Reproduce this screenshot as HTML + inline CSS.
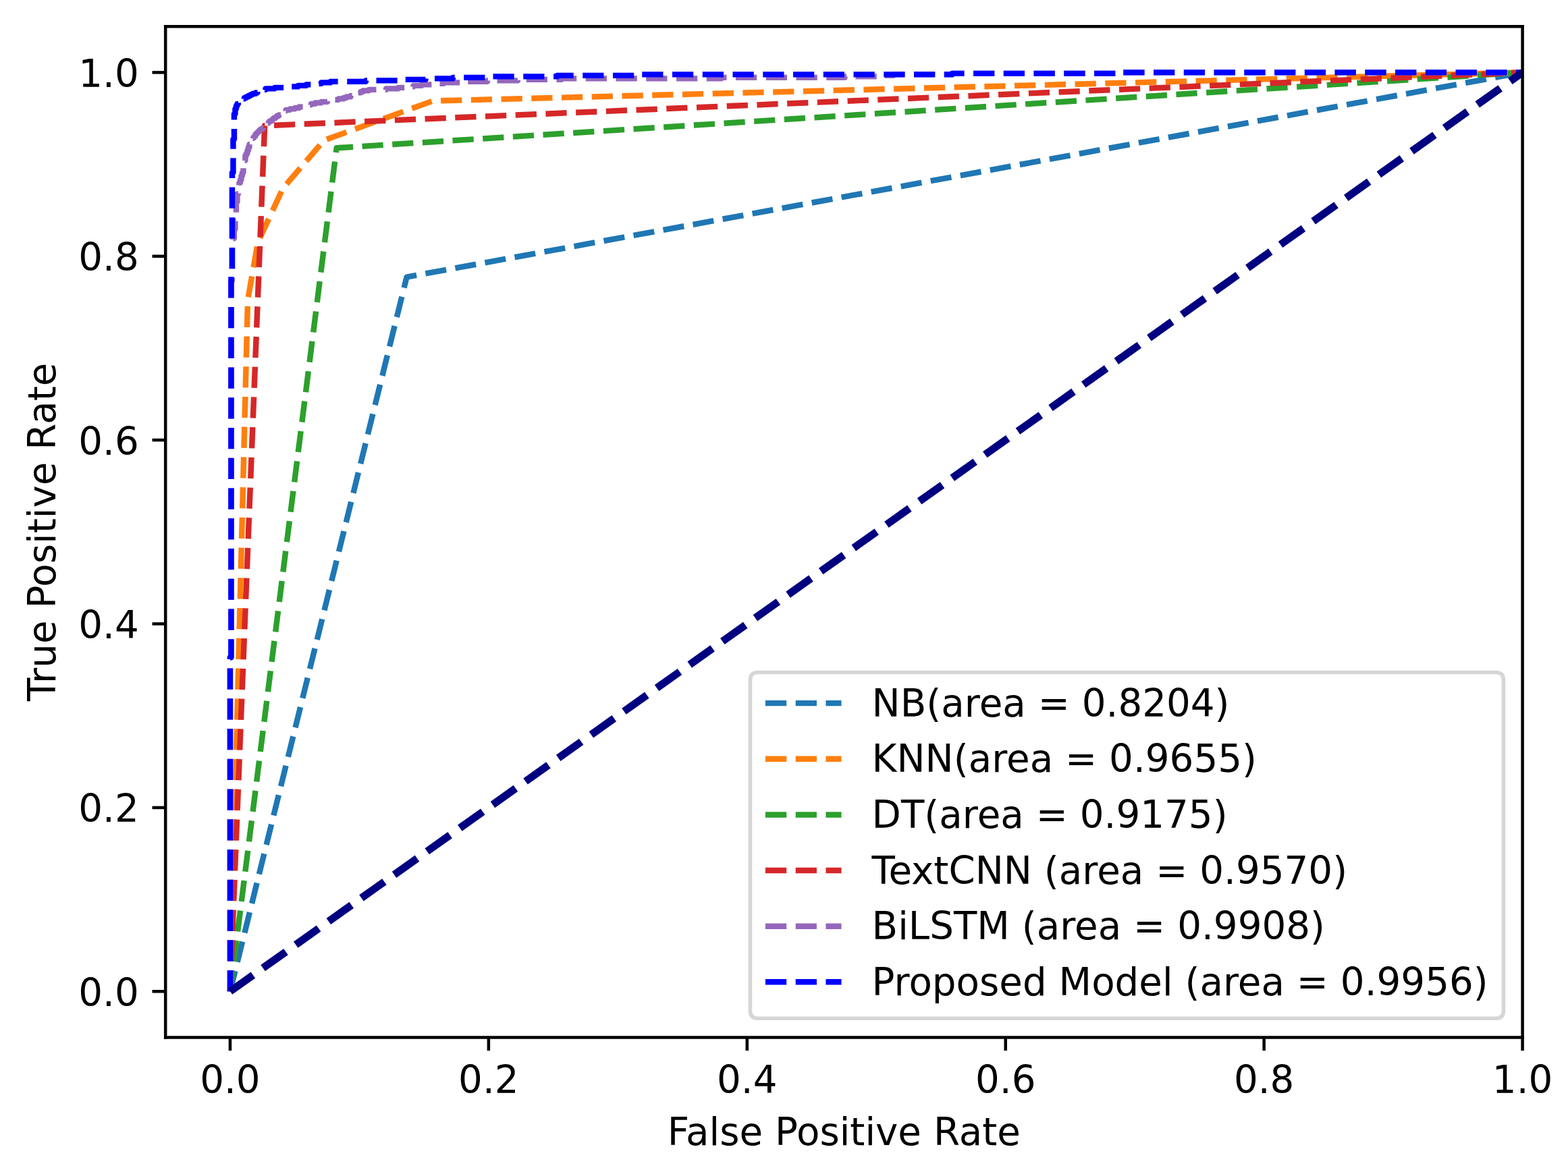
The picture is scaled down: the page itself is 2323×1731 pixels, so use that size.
<!DOCTYPE html>
<html><head><meta charset="utf-8"><title>ROC</title>
<style>html,body{margin:0;padding:0;background:#fff;overflow:hidden;}svg{display:block;}
text{font-family:"DejaVu Sans","Liberation Sans",sans-serif;}</style></head>
<body>
<svg width="2323" height="1731" viewBox="14.0437 34.4909 412.6477 307.4873">
 <defs>
  <style type="text/css">*{stroke-linejoin: round; stroke-linecap: butt}</style>
 </defs>
 <g id="figure_1">
  <g id="patch_1">
   <path d="M 0 345.6 L 460.8 345.6 L 460.8 0 L 0 0 z
" style="fill: #ffffff"/>
  </g>
  <g id="axes_1">
   <g id="patch_2">
    <path d="M 57.6 307.584 L 414.72 307.584 L 414.72 41.472 L 57.6 41.472 z
" style="fill: #ffffff"/>
   </g>
   <g id="matplotlib.axis_1">
    <g id="xtick_1">
     <g id="line2d_1">
            <g>
       <path d="M 0 0 L 0 3.5 " transform="translate(74.605714 307.584)" style="stroke: #000000; stroke-width: 0.8"/>
      </g>
     </g>
     <g id="text_1">
      <text style="font-size: 10px; font-family: 'DejaVu Sans', 'Liberation Sans', sans-serif; text-anchor: middle" x="74.605714" y="322.182437" transform="rotate(-0 74.605714 322.182437)">0.0</text>
     </g>
    </g>
    <g id="xtick_2">
     <g id="line2d_2">
      <g>
       <path d="M 0 0 L 0 3.5 " transform="translate(142.628571 307.584)" style="stroke: #000000; stroke-width: 0.8"/>
      </g>
     </g>
     <g id="text_2">
      <text style="font-size: 10px; font-family: 'DejaVu Sans', 'Liberation Sans', sans-serif; text-anchor: middle" x="142.628571" y="322.182437" transform="rotate(-0 142.628571 322.182437)">0.2</text>
     </g>
    </g>
    <g id="xtick_3">
     <g id="line2d_3">
      <g>
       <path d="M 0 0 L 0 3.5 " transform="translate(210.651429 307.584)" style="stroke: #000000; stroke-width: 0.8"/>
      </g>
     </g>
     <g id="text_3">
      <text style="font-size: 10px; font-family: 'DejaVu Sans', 'Liberation Sans', sans-serif; text-anchor: middle" x="210.651429" y="322.182437" transform="rotate(-0 210.651429 322.182437)">0.4</text>
     </g>
    </g>
    <g id="xtick_4">
     <g id="line2d_4">
      <g>
       <path d="M 0 0 L 0 3.5 " transform="translate(278.674286 307.584)" style="stroke: #000000; stroke-width: 0.8"/>
      </g>
     </g>
     <g id="text_4">
      <text style="font-size: 10px; font-family: 'DejaVu Sans', 'Liberation Sans', sans-serif; text-anchor: middle" x="278.674286" y="322.182437" transform="rotate(-0 278.674286 322.182437)">0.6</text>
     </g>
    </g>
    <g id="xtick_5">
     <g id="line2d_5">
      <g>
       <path d="M 0 0 L 0 3.5 " transform="translate(346.697143 307.584)" style="stroke: #000000; stroke-width: 0.8"/>
      </g>
     </g>
     <g id="text_5">
      <text style="font-size: 10px; font-family: 'DejaVu Sans', 'Liberation Sans', sans-serif; text-anchor: middle" x="346.697143" y="322.182437" transform="rotate(-0 346.697143 322.182437)">0.8</text>
     </g>
    </g>
    <g id="xtick_6">
     <g id="line2d_6">
      <g>
       <path d="M 0 0 L 0 3.5 " transform="translate(414.72 307.584)" style="stroke: #000000; stroke-width: 0.8"/>
      </g>
     </g>
     <g id="text_6">
      <text style="font-size: 10px; font-family: 'DejaVu Sans', 'Liberation Sans', sans-serif; text-anchor: middle" x="414.72" y="322.182437" transform="rotate(-0 414.72 322.182437)">1.0</text>
     </g>
    </g>
    <g id="text_7">
     <text style="font-size: 10px; font-family: 'DejaVu Sans', 'Liberation Sans', sans-serif; text-anchor: middle" x="236.16" y="335.860562" transform="rotate(-0 236.16 335.860562)">False Positive Rate</text>
    </g>
   </g>
   <g id="matplotlib.axis_2">
    <g id="ytick_1">
     <g id="line2d_7">
            <g>
       <path d="M 0 0 L -3.5 0 " transform="translate(57.6 295.488)" style="stroke: #000000; stroke-width: 0.8"/>
      </g>
     </g>
     <g id="text_8">
      <text style="font-size: 10px; font-family: 'DejaVu Sans', 'Liberation Sans', sans-serif; text-anchor: end" x="50.6" y="299.287219" transform="rotate(-0 50.6 299.287219)">0.0</text>
     </g>
    </g>
    <g id="ytick_2">
     <g id="line2d_8">
      <g>
       <path d="M 0 0 L -3.5 0 " transform="translate(57.6 247.104)" style="stroke: #000000; stroke-width: 0.8"/>
      </g>
     </g>
     <g id="text_9">
      <text style="font-size: 10px; font-family: 'DejaVu Sans', 'Liberation Sans', sans-serif; text-anchor: end" x="50.6" y="250.903219" transform="rotate(-0 50.6 250.903219)">0.2</text>
     </g>
    </g>
    <g id="ytick_3">
     <g id="line2d_9">
      <g>
       <path d="M 0 0 L -3.5 0 " transform="translate(57.6 198.72)" style="stroke: #000000; stroke-width: 0.8"/>
      </g>
     </g>
     <g id="text_10">
      <text style="font-size: 10px; font-family: 'DejaVu Sans', 'Liberation Sans', sans-serif; text-anchor: end" x="50.6" y="202.519219" transform="rotate(-0 50.6 202.519219)">0.4</text>
     </g>
    </g>
    <g id="ytick_4">
     <g id="line2d_10">
      <g>
       <path d="M 0 0 L -3.5 0 " transform="translate(57.6 150.336)" style="stroke: #000000; stroke-width: 0.8"/>
      </g>
     </g>
     <g id="text_11">
      <text style="font-size: 10px; font-family: 'DejaVu Sans', 'Liberation Sans', sans-serif; text-anchor: end" x="50.6" y="154.135219" transform="rotate(-0 50.6 154.135219)">0.6</text>
     </g>
    </g>
    <g id="ytick_5">
     <g id="line2d_11">
      <g>
       <path d="M 0 0 L -3.5 0 " transform="translate(57.6 101.952)" style="stroke: #000000; stroke-width: 0.8"/>
      </g>
     </g>
     <g id="text_12">
      <text style="font-size: 10px; font-family: 'DejaVu Sans', 'Liberation Sans', sans-serif; text-anchor: end" x="50.6" y="105.751219" transform="rotate(-0 50.6 105.751219)">0.8</text>
     </g>
    </g>
    <g id="ytick_6">
     <g id="line2d_12">
      <g>
       <path d="M 0 0 L -3.5 0 " transform="translate(57.6 53.568)" style="stroke: #000000; stroke-width: 0.8"/>
      </g>
     </g>
     <g id="text_13">
      <text style="font-size: 10px; font-family: 'DejaVu Sans', 'Liberation Sans', sans-serif; text-anchor: end" x="50.6" y="57.367219" transform="rotate(-0 50.6 57.367219)">1.0</text>
     </g>
    </g>
    <g id="text_14">
     <text style="font-size: 10px; font-family: 'DejaVu Sans', 'Liberation Sans', sans-serif; text-anchor: middle" x="28.617187" y="174.528" transform="rotate(-90 28.617187 174.528)">True Positive Rate</text>
    </g>
   </g>
   <g id="line2d_13">
    <path d="M 74.605 295.488 L 121.079 107.422 L 414.72 53.568 " clip-path="url(#p02d3b5d28d)" style="fill: none; stroke-dasharray: 5.55,2.4; stroke-dashoffset: 0; stroke: #1f77b4; stroke-width: 1.5"/>
   </g>
   <g id="line2d_14">
    <path d="M 74.605 295.488 L 79.242 113.532 L 81.907 98.257 L 88.515 84.047 L 99.317 71.436 L 127.919 61.063 L 414.72 53.568 " clip-path="url(#p02d3b5d28d)" style="fill: none; stroke-dasharray: 5.55,2.4; stroke-dashoffset: 0; stroke: #ff7f0e; stroke-width: 1.5"/>
   </g>
   <g id="line2d_15">
    <path d="M 74.605 295.488 L 102.621 73.443 L 414.72 53.568 " clip-path="url(#p02d3b5d28d)" style="fill: none; stroke-dasharray: 5.55,2.4; stroke-dashoffset: 0; stroke: #2ca02c; stroke-width: 1.5"/>
   </g>
   <g id="line2d_16">
    <path d="M 74.605 295.488 L 83.701 67.582 L 414.72 53.568 " clip-path="url(#p02d3b5d28d)" style="fill: none; stroke-dasharray: 5.55,2.4; stroke-dashoffset: 0; stroke: #d62728; stroke-width: 1.5"/>
   </g>
   <g id="line2d_17">
    <path d="M 74.605 295.488 L 74.605 207.565 L 74.872 207.565 L 74.872 108.452 L 75.138 108.452 L 75.138 99.660 L 75.405 99.660 L 75.405 97.262 L 75.671 97.262 L 75.671 94.864 L 75.938 94.864 L 75.938 92.733 L 76.204 92.733 L 76.204 87.671 L 76.471 87.671 L 76.471 85.539 L 76.737 85.539 L 76.737 83.674 L 77.004 83.674 L 77.004 82.609 L 77.270 82.609 L 77.270 81.809 L 77.536 81.809 L 77.536 80.744 L 77.803 80.744 L 77.803 79.944 L 78.069 79.944 L 78.069 78.612 L 78.336 78.612 L 78.336 76.747 L 78.602 76.747 L 78.602 75.415 L 78.869 75.415 L 78.869 74.882 L 79.135 74.882 L 79.135 74.083 L 79.402 74.083 L 79.402 73.283 L 79.668 73.283 L 79.668 72.484 L 79.935 72.484 L 79.935 71.951 L 80.201 71.951 L 80.201 71.418 L 80.468 71.418 L 80.468 70.886 L 80.734 70.886 L 80.734 70.619 L 81.001 70.619 L 81.001 70.353 L 81.267 70.353 L 81.267 69.820 L 81.534 69.820 L 81.534 69.553 L 81.800 69.553 L 81.800 69.287 L 82.067 69.287 L 82.067 69.021 L 82.333 69.021 L 82.333 68.754 L 82.600 68.754 L 82.600 68.488 L 83.132 68.488 L 83.132 68.221 L 83.399 68.221 L 83.399 67.955 L 83.665 67.955 L 83.665 67.688 L 83.932 67.688 L 83.932 67.422 L 84.198 67.422 L 84.198 67.156 L 84.465 67.156 L 84.465 66.889 L 84.731 66.889 L 84.731 66.623 L 84.998 66.623 L 84.998 66.356 L 85.531 66.356 L 85.531 66.090 L 85.797 66.090 L 85.797 65.823 L 86.064 65.823 L 86.064 65.557 L 86.597 65.557 L 86.597 65.290 L 86.863 65.290 L 86.863 65.024 L 87.396 65.024 L 87.396 64.758 L 87.929 64.758 L 87.929 64.491 L 88.196 64.491 L 88.196 64.225 L 88.729 64.225 L 88.729 63.958 L 88.995 63.958 L 88.995 63.692 L 89.261 63.692 L 89.261 63.425 L 90.327 63.425 L 90.327 63.159 L 91.660 63.159 L 91.660 62.893 L 92.726 62.893 L 92.726 62.626 L 93.792 62.626 L 93.792 62.360 L 94.858 62.360 L 94.858 62.093 L 95.923 62.093 L 95.923 61.827 L 96.989 61.827 L 96.989 61.560 L 98.588 61.560 L 98.588 61.294 L 100.187 61.294 L 100.187 61.028 L 101.519 61.028 L 101.519 60.761 L 103.118 60.761 L 103.118 60.495 L 104.451 60.495 L 104.451 60.228 L 105.250 60.228 L 105.250 59.962 L 106.316 59.962 L 106.316 59.695 L 106.849 59.695 L 106.849 59.429 L 107.648 59.429 L 107.648 59.163 L 108.181 59.163 L 108.181 58.896 L 108.981 58.896 L 108.981 58.630 L 109.514 58.630 L 109.514 58.363 L 111.113 58.363 L 111.113 58.097 L 115.643 58.097 L 115.643 57.830 L 118.841 57.830 L 118.841 57.564 L 120.972 57.564 L 120.972 57.298 L 122.838 57.298 L 122.838 57.031 L 124.969 57.031 L 124.969 56.765 L 127.901 56.765 L 127.901 56.498 L 130.832 56.498 L 130.832 56.232 L 135.362 56.232 L 135.362 55.965 L 142.291 55.965 L 142.291 55.699 L 150.285 55.699 L 150.285 55.433 L 161.743 55.433 L 161.743 55.166 L 203.847 55.166 L 203.847 54.900 L 236.357 54.900 L 236.357 54.633 L 245.417 54.633 L 245.417 54.367 L 249.148 54.367 L 249.148 54.100 L 264.604 54.100 L 264.604 53.834 L 308.839 53.834 L 308.839 53.568 L 414.631 53.568 L 414.631 53.568 L 414.72 53.568 " clip-path="url(#p02d3b5d28d)" style="fill: none; stroke-dasharray: 5.55,2.4; stroke-dashoffset: 0; stroke: #9467bd; stroke-width: 1.5"/>
   </g>
   <g id="line2d_18">
    <path d="M 74.605 295.488 L 74.605 207.565 L 74.872 207.565 L 74.872 106.055 L 75.138 106.055 L 75.138 79.944 L 75.405 79.944 L 75.405 71.152 L 75.671 71.152 L 75.671 64.491 L 75.938 64.491 L 75.938 63.159 L 76.204 63.159 L 76.204 62.360 L 76.471 62.360 L 76.471 61.827 L 76.737 61.827 L 76.737 61.294 L 77.270 61.294 L 77.270 61.028 L 77.536 61.028 L 77.536 60.761 L 77.803 60.761 L 77.803 60.495 L 78.336 60.495 L 78.336 60.228 L 78.869 60.228 L 78.869 59.962 L 79.402 59.962 L 79.402 59.695 L 79.935 59.695 L 79.935 59.429 L 80.468 59.429 L 80.468 59.163 L 81.267 59.163 L 81.267 58.896 L 81.800 58.896 L 81.800 58.630 L 82.333 58.630 L 82.333 58.363 L 83.132 58.363 L 83.132 58.097 L 83.932 58.097 L 83.932 57.830 L 86.330 57.830 L 86.330 57.564 L 90.061 57.564 L 90.061 57.298 L 92.459 57.298 L 92.459 57.031 L 94.591 57.031 L 94.591 56.765 L 96.456 56.765 L 96.456 56.498 L 98.588 56.498 L 98.588 56.232 L 100.987 56.232 L 100.987 55.965 L 110.313 55.965 L 110.313 55.699 L 119.640 55.699 L 119.640 55.433 L 126.035 55.433 L 126.035 55.166 L 133.230 55.166 L 133.230 54.900 L 142.823 54.900 L 142.823 54.633 L 160.677 54.633 L 160.677 54.367 L 181.996 54.367 L 181.996 54.100 L 264.604 54.100 L 264.604 53.834 L 308.839 53.834 L 308.839 53.568 L 414.631 53.568 L 414.631 53.568 L 414.72 53.568 " clip-path="url(#p02d3b5d28d)" style="fill: none; stroke-dasharray: 5.55,2.4; stroke-dashoffset: 0; stroke: #0000ff; stroke-width: 1.5"/>
   </g>
   <g id="line2d_19">
    <path d="M 74.605 295.488 L 414.72 53.568 " clip-path="url(#p02d3b5d28d)" style="fill: none; stroke-dasharray: 7.4,3.2; stroke-dashoffset: 0; stroke: #000080; stroke-width: 2"/>
   </g>
   <g id="patch_3">
    <path d="M 57.6 307.584 L 57.6 41.472 " style="fill: none; stroke: #000000; stroke-width: 0.8; stroke-linejoin: miter; stroke-linecap: square"/>
   </g>
   <g id="patch_4">
    <path d="M 414.72 307.584 L 414.72 41.472 " style="fill: none; stroke: #000000; stroke-width: 0.8; stroke-linejoin: miter; stroke-linecap: square"/>
   </g>
   <g id="patch_5">
    <path d="M 57.6 307.584 L 414.72 307.584 " style="fill: none; stroke: #000000; stroke-width: 0.8; stroke-linejoin: miter; stroke-linecap: square"/>
   </g>
   <g id="patch_6">
    <path d="M 57.6 41.472 L 414.72 41.472 " style="fill: none; stroke: #000000; stroke-width: 0.8; stroke-linejoin: miter; stroke-linecap: square"/>
   </g>
   <g id="legend_1">
    <g id="patch_7">
     <path d="M 213.474 302.584 L 407.72 302.584 Q 409.72 302.584 409.72 300.584 L 409.72 213.515 Q 409.72 211.515 407.72 211.515 L 213.474 211.515 Q 211.474 211.515 211.474 213.515 L 211.474 300.584 Q 211.474 302.584 213.474 302.584 z
" style="fill: #ffffff; opacity: 0.8; stroke: #cccccc; stroke-linejoin: miter"/>
    </g>
    <g id="line2d_20">
     <path d="M 215.474 219.613 L 225.474 219.613 L 235.474 219.613 " style="fill: none; stroke-dasharray: 5.55,2.4; stroke-dashoffset: 0; stroke: #1f77b4; stroke-width: 1.5"/>
    </g>
    <g id="text_15">
     <text style="font-size: 10px; font-family: 'DejaVu Sans', 'Liberation Sans', sans-serif; text-anchor: start" x="243.474687" y="223.113687" transform="rotate(-0 243.474687 223.113687)">NB(area = 0.8204)</text>
    </g>
    <g id="line2d_21">
     <path d="M 215.474 234.291 L 225.474 234.291 L 235.474 234.291 " style="fill: none; stroke-dasharray: 5.55,2.4; stroke-dashoffset: 0; stroke: #ff7f0e; stroke-width: 1.5"/>
    </g>
    <g id="text_16">
     <text style="font-size: 10px; font-family: 'DejaVu Sans', 'Liberation Sans', sans-serif; text-anchor: start" x="243.474687" y="237.791812" transform="rotate(-0 243.474687 237.791812)">KNN(area = 0.9655)</text>
    </g>
    <g id="line2d_22">
     <path d="M 215.474 248.969 L 225.474 248.969 L 235.474 248.969 " style="fill: none; stroke-dasharray: 5.55,2.4; stroke-dashoffset: 0; stroke: #2ca02c; stroke-width: 1.5"/>
    </g>
    <g id="text_17">
     <text style="font-size: 10px; font-family: 'DejaVu Sans', 'Liberation Sans', sans-serif; text-anchor: start" x="243.474687" y="252.469937" transform="rotate(-0 243.474687 252.469937)">DT(area = 0.9175)</text>
    </g>
    <g id="line2d_23">
     <path d="M 215.474 263.648 L 225.474 263.648 L 235.474 263.648 " style="fill: none; stroke-dasharray: 5.55,2.4; stroke-dashoffset: 0; stroke: #d62728; stroke-width: 1.5"/>
    </g>
    <g id="text_18">
     <text style="font-size: 10px; font-family: 'DejaVu Sans', 'Liberation Sans', sans-serif; text-anchor: start" x="243.474687" y="267.148062" transform="rotate(-0 243.474687 267.148062)">TextCNN (area = 0.9570)</text>
    </g>
    <g id="line2d_24">
     <path d="M 215.474 278.326 L 225.474 278.326 L 235.474 278.326 " style="fill: none; stroke-dasharray: 5.55,2.4; stroke-dashoffset: 0; stroke: #9467bd; stroke-width: 1.5"/>
    </g>
    <g id="text_19">
     <text style="font-size: 10px; font-family: 'DejaVu Sans', 'Liberation Sans', sans-serif; text-anchor: start" x="243.474687" y="281.826188" transform="rotate(-0 243.474687 281.826188)">BiLSTM (area = 0.9908)</text>
    </g>
    <g id="line2d_25">
     <path d="M 215.474 293.004 L 225.474 293.004 L 235.474 293.004 " style="fill: none; stroke-dasharray: 5.55,2.4; stroke-dashoffset: 0; stroke: #0000ff; stroke-width: 1.5"/>
    </g>
    <g id="text_20">
     <text style="font-size: 10px; font-family: 'DejaVu Sans', 'Liberation Sans', sans-serif; text-anchor: start" x="243.474687" y="296.504312" transform="rotate(-0 243.474687 296.504312)">Proposed Model (area = 0.9956)</text>
    </g>
   </g>
  </g>
 </g>
 <defs>
  <clipPath id="p02d3b5d28d">
   <rect x="57.6" y="41.472" width="357.12" height="266.112"/>
  </clipPath>
 </defs>
</svg>

</body></html>
